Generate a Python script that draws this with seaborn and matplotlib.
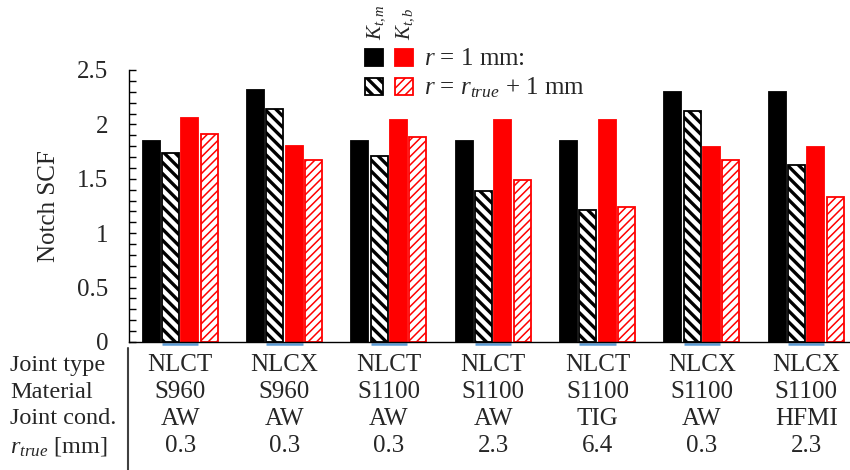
import numpy as np
import pandas as pd
import seaborn as sns
import matplotlib
matplotlib.use("Agg")
import matplotlib.pyplot as plt
from matplotlib.patches import Rectangle
from matplotlib.lines import Line2D
from matplotlib.transforms import blended_transform_factory
from matplotlib.ticker import MultipleLocator

# ---------------- data ----------------
groups = ["G1", "G2", "G3", "G4", "G5", "G6", "G7"]
joint_type = ["NLCT", "NLCX", "NLCT", "NLCT", "NLCT", "NLCX", "NLCX"]
material = ["S960", "S960", "S1100", "S1100", "S1100", "S1100", "S1100"]
joint_cond = ["AW", "AW", "AW", "AW", "TIG", "AW", "HFMI"]
r_true = ["0.3", "0.3", "0.3", "2.3", "6.4", "0.3", "2.3"]

ktm_r1 = [1.85, 2.32, 1.85, 1.85, 1.85, 2.30, 2.30]
ktm_rtrue = [1.74, 2.14, 1.71, 1.39, 1.21, 2.12, 1.63]
ktb_r1 = [2.06, 1.80, 2.04, 2.04, 2.04, 1.79, 1.79]
ktb_rtrue = [1.91, 1.67, 1.88, 1.49, 1.24, 1.67, 1.33]

series_names = ["Ktm_r1", "Ktm_rtrue", "Ktb_r1", "Ktb_rtrue"]
series_values = [ktm_r1, ktm_rtrue, ktb_r1, ktb_rtrue]

row_labels = ["Joint type", "Material", "Joint cond.", "$r_{true}$ [mm]"]
yticks = [0, 0.5, 1, 1.5, 2, 2.5]
ytick_labels = ["0", "0.5", "1", "1.5", "2", "2.5"]

# ---------------- style ----------------
sns.set_theme(style="white")
plt.rcParams["font.family"] = ["Liberation Serif", "DejaVu Serif"]
plt.rcParams["mathtext.fontset"] = "custom"
plt.rcParams["mathtext.rm"] = "Liberation Serif"
plt.rcParams["mathtext.it"] = "Liberation Serif:italic"
plt.rcParams["mathtext.bf"] = "Liberation Serif:bold"
FS = 18

W, H = 850, 470
fig = plt.figure(figsize=(8.5, 4.7), dpi=100)
ax_left, ax_right = 129, 850
y0_px, ytop_px = 342, 70
ax = fig.add_axes([ax_left / W, 1 - y0_px / H, (ax_right - ax_left) / W, (y0_px - ytop_px) / H])

rows = []
for s, vals in zip(series_names, series_values):
    for g, v in zip(groups, vals):
        rows.append({"group": g, "series": s, "value": v})
df = pd.DataFrame(rows)

palette = {"Ktm_r1": "black", "Ktm_rtrue": "white", "Ktb_r1": "#FF0000", "Ktb_rtrue": "white"}
sns.barplot(data=df, x="group", y="value", hue="series", order=groups,
            hue_order=series_names, palette=palette, width=0.74, gap=0.12,
            legend=False, ax=ax, errorbar=None, saturation=1)

styles = {
    "Ktm_r1": dict(fc="black", ec="black", hatch=None, hlw=None),
    "Ktm_rtrue": dict(fc="white", ec="black", hatch="\\\\\\", hlw=2.4),
    "Ktb_r1": dict(fc="#FF0000", ec="#FF0000", hatch=None, hlw=None),
    "Ktb_rtrue": dict(fc="white", ec="#FF0000", hatch="////", hlw=1.1),
}


def style_patch(p, st):
    p.set_facecolor(st["fc"])
    p.set_edgecolor(st["ec"])
    p.set_linewidth(1.3)
    if st["hatch"]:
        p.set_hatch(st["hatch"])
        if hasattr(p, "set_hatch_linewidth"):
            p.set_hatch_linewidth(st["hlw"])


for cont, s in zip(ax.containers, series_names):
    for p in cont.patches:
        style_patch(p, styles[s])

# blue segments at the baseline under the middle bars
c1, c2 = ax.containers[1], ax.containers[2]
for pa, pb in zip(c1.patches, c2.patches):
    ax.plot([pa.get_x(), pb.get_x() + pb.get_width()], [-0.02, -0.02],
            color="#5B9BD5", lw=1.8, clip_on=False, solid_capstyle="butt", zorder=1)

ax.set_ylim(0, 2.5)
ax.set_xlim(-0.49, 6.42)
ax.set_yticks(yticks)
ax.set_yticklabels(ytick_labels, fontsize=FS)
ax.yaxis.set_minor_locator(MultipleLocator(0.1))
ax.tick_params(axis="y", which="both", direction="in", length=5, width=1, color="black",
               left=True, pad=15)
ax.tick_params(axis="x", bottom=False, labelbottom=False)
ax.set_xlabel("")
ax.set_ylabel("Notch SCF", fontsize=FS, labelpad=12)
for side in ["top", "right"]:
    ax.spines[side].set_visible(False)
for side in ["left", "bottom"]:
    ax.spines[side].set_color("black")
    ax.spines[side].set_linewidth(1.0)
ax.set_facecolor("white")

# ---------------- table below ----------------
tr = blended_transform_factory(ax.transData, fig.transFigure)
row_y = [365, 392, 419, 446]
for i, g in enumerate(groups):
    for vals, yp in zip([joint_type, material, joint_cond, r_true], row_y):
        ax.text(i, 1 - yp / H, vals[i], transform=tr, ha="center", va="center", fontsize=FS)
for lab, yp in zip(row_labels, row_y):
    fig.text(10 / W, 1 - yp / H, lab, ha="left", va="center", fontsize=17.5)
fig.add_artist(Line2D([128 / W, 128 / W], [1 - 348 / H, 0], color="#404040", lw=1.5))

# ---------------- legend ----------------
def fig_rect(x0, y0, x1, y1, st):
    r = Rectangle((x0 / W, 1 - y1 / H), (x1 - x0) / W, (y1 - y0) / H,
                  transform=fig.transFigure)
    style_patch(r, st)
    fig.add_artist(r)


fig_rect(365, 49, 383, 66, styles["Ktm_r1"])
fig_rect(395, 49, 413, 66, styles["Ktb_r1"])
fig_rect(365, 78, 383, 95, styles["Ktm_rtrue"])
fig_rect(395, 78, 413, 95, styles["Ktb_rtrue"])
fig.text(376 / W, 1 - 40 / H, "$K_{t,m}$", rotation=90, ha="center", va="bottom", fontsize=15)
fig.text(405 / W, 1 - 40 / H, "$K_{t,b}$", rotation=90, ha="center", va="bottom", fontsize=15)
fig.text(424 / W, 1 - 59 / H, "$r$ = 1 mm:", ha="left", va="center", fontsize=FS)
fig.text(424 / W, 1 - 88 / H, "$r$ = $r_{true}$ + 1 mm", ha="left", va="center", fontsize=FS)

fig.savefig("out.png", dpi=100, facecolor="white")
